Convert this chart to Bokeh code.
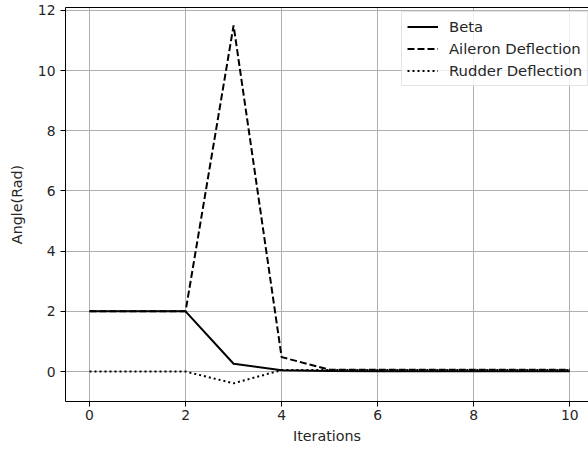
from bokeh.plotting import figure
from bokeh.models import Range1d, LinearAxis, FixedTicker, Legend, LegendItem
from bokeh.embed import file_html
from bokeh.resources import INLINE

iterations = [0, 1, 2, 3, 4, 5, 6, 7, 8, 9, 10]
beta = [2.0, 2.0, 2.0, 0.26, 0.04, 0.02, 0.01, 0.01, 0.01, 0.01, 0.01]
aileron = [2.0, 2.0, 2.0, 11.5, 0.48, 0.06, 0.06, 0.06, 0.06, 0.06, 0.06]
rudder = [0.0, 0.0, 0.0, -0.39, 0.05, 0.05, 0.05, 0.05, 0.05, 0.05, 0.05]
x_ticks = [0, 2, 4, 6, 8, 10]
y_ticks = [0, 2, 4, 6, 8, 10, 12]

FONT = "DejaVu Sans"
TXT = "#262626"
FS = "13.9px"

p = figure(width=588, height=450, output_backend="svg", toolbar_location=None,
           x_range=Range1d(-0.5, 10.39), y_range=Range1d(-0.995, 12.095),
           min_border_left=65, min_border_right=0, min_border_top=7, min_border_bottom=49)
p.outline_line_color = None
p.background_fill_color = "white"
p.border_fill_color = "white"

for ax in (p.xaxis[0], p.yaxis[0]):
    ax.axis_line_color = "black"
    ax.axis_line_width = 1
    ax.major_tick_line_color = "black"
    ax.major_tick_out = 5
    ax.major_tick_in = 0
    ax.minor_tick_line_color = None
    ax.major_label_text_font = FONT
    ax.major_label_text_font_size = FS
    ax.major_label_text_color = TXT
    ax.axis_label_text_font = FONT
    ax.axis_label_text_font_size = "14.3px"
    ax.axis_label_text_font_style = "normal"
    ax.axis_label_text_color = TXT

p.xaxis[0].ticker = FixedTicker(ticks=x_ticks)
p.yaxis[0].ticker = FixedTicker(ticks=y_ticks)
p.xaxis[0].axis_label = "Iterations"
p.yaxis[0].axis_label = "Angle(Rad)"
p.xaxis[0].major_label_standoff = 3
p.xaxis[0].axis_label_standoff = 5
p.yaxis[0].major_label_standoff = 5
p.yaxis[0].axis_label_standoff = 10

top = LinearAxis(ticker=FixedTicker(ticks=[]), major_label_text_font_size="0px",
                 major_tick_line_color=None, minor_tick_line_color=None,
                 axis_line_color="black", axis_line_width=1)
p.add_layout(top, "above")

p.xgrid.ticker = FixedTicker(ticks=x_ticks)
p.ygrid.ticker = FixedTicker(ticks=y_ticks)
p.grid.grid_line_color = "#b0b0b0"
p.grid.grid_line_width = 1

r1 = p.line(iterations, beta, line_color="black", line_width=2)
r2 = p.line(iterations, aileron, line_color="black", line_width=2, line_dash="7 3")
r3 = p.line(iterations, rudder, line_color="black", line_width=2, line_dash="2 3")

legend = Legend(items=[LegendItem(label="Beta", renderers=[r1]),
                       LegendItem(label="Aileron Deflection", renderers=[r2]),
                       LegendItem(label="Rudder Deflection", renderers=[r3])],
                location=(336, 315))
legend.label_text_font = FONT
legend.label_text_font_size = "14.8px"
legend.label_text_color = TXT
legend.border_line_color = "#cccccc"
legend.border_line_width = 1
legend.background_fill_alpha = 0.8
legend.glyph_width = 31
legend.glyph_height = 19
legend.label_height = 19
legend.label_standoff = 11
legend.spacing = 3
legend.padding = 5
legend.margin = 0
p.add_layout(legend, "center")

open("out.html", "w").write(file_html(p, INLINE))
